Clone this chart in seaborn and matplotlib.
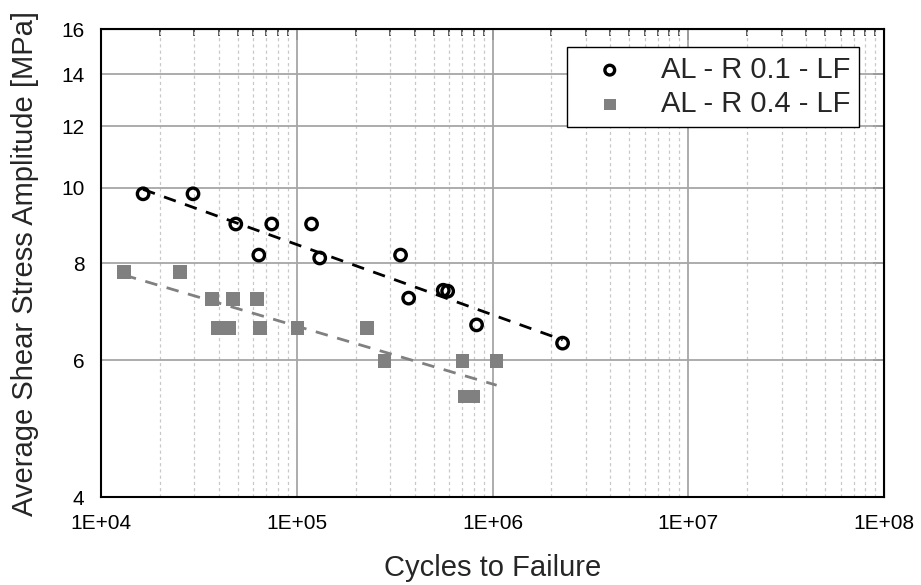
import matplotlib
matplotlib.use("Agg")
import matplotlib.pyplot as plt
import matplotlib.ticker as mticker
import seaborn as sns
import numpy as np
import pandas as pd

# ---- data ----
r01_cycles = [1.64e4, 2.95e4, 4.88e4, 7.45e4, 6.4e4, 1.19e5, 1.31e5, 3.39e5, 3.73e5, 5.6e5, 5.9e5, 8.29e5, 2.28e6]
r01_stress = [9.82, 9.82, 8.98, 8.98, 8.19, 8.98, 8.12, 8.19, 7.21, 7.38, 7.36, 6.66, 6.31]

r04_cycles = [1.31e4, 2.53e4, 3.68e4, 4.71e4, 6.25e4, 3.95e4, 4.5e4, 6.48e4, 1.01e5, 2.28e5, 2.81e5, 7.03e5, 1.05e6, 7.2e5, 8.0e5]
r04_stress = [7.79, 7.79, 7.19, 7.19, 7.19, 6.6, 6.6, 6.6, 6.6, 6.6, 5.98, 5.98, 5.98, 5.39, 5.39]

fit01_cycles = [1.64e4, 2.28e6]
fit01_stress = [9.95, 6.37]
fit04_cycles = [1.31e4, 1.05e6]
fit04_stress = [7.72, 5.57]

label01 = "AL - R 0.1 - LF"
label04 = "AL - R 0.4 - LF"
x_ticks = [1e4, 1e5, 1e6, 1e7, 1e8]
x_tick_labels = ["1E+04", "1E+05", "1E+06", "1E+07", "1E+08"]
y_ticks = [4, 6, 8, 10, 12, 14, 16]

sns.set_style("white")
plt.rcParams["font.family"] = ["Liberation Sans", "DejaVu Sans"]

fig = plt.figure(figsize=(9.21, 5.85), dpi=100)
ax = fig.add_axes([0.1097, 0.1504, 0.8501, 0.8000])

df01 = pd.DataFrame({"N": r01_cycles, "S": r01_stress})
df04 = pd.DataFrame({"N": r04_cycles, "S": r04_stress})
f01 = pd.DataFrame({"N": fit01_cycles, "S": fit01_stress})
f04 = pd.DataFrame({"N": fit04_cycles, "S": fit04_stress})

ax.set_xscale("log")
ax.set_yscale("log")

sns.lineplot(data=f01, x="N", y="S", ax=ax, color="black", lw=2.0,
             linestyle=(0, (4.5, 3.5)), legend=False, zorder=3)
sns.lineplot(data=f04, x="N", y="S", ax=ax, color="#808080", lw=2.0,
             linestyle=(0, (4.5, 3.5)), legend=False, zorder=3)

sns.scatterplot(data=df01, x="N", y="S", ax=ax, marker="o", s=68,
                facecolor="none", edgecolor="black", linewidth=2.4,
                label=label01, zorder=4)
sns.scatterplot(data=df04, x="N", y="S", ax=ax, marker="s", s=95,
                color="#808080", edgecolor="none", linewidth=0,
                label=label04, zorder=4)

ax.set_xlim(1e4, 1e8)
ax.set_ylim(4, 16)

ax.xaxis.set_major_locator(mticker.FixedLocator(x_ticks))
ax.xaxis.set_major_formatter(mticker.FixedFormatter(x_tick_labels))
ax.xaxis.set_minor_locator(mticker.LogLocator(base=10, subs=np.arange(2, 10), numticks=20))
ax.xaxis.set_minor_formatter(mticker.NullFormatter())
ax.yaxis.set_major_locator(mticker.FixedLocator(y_ticks))
ax.yaxis.set_major_formatter(mticker.FixedFormatter([str(v) for v in y_ticks]))
ax.yaxis.set_minor_locator(mticker.NullLocator())
ax.yaxis.set_minor_formatter(mticker.NullFormatter())

ax.grid(True, which="major", axis="both", color="#a6a6a6", lw=1.3, ls="-", zorder=0)
ax.grid(True, which="minor", axis="x", color="#c8c8c8", lw=0.9, ls=(0, (2.5, 2.5)), zorder=0)
ax.set_axisbelow(True)

for s in ax.spines.values():
    s.set_color("black")
    s.set_linewidth(1.5)

ax.tick_params(axis="both", which="major", direction="out", length=8, width=1.3,
               labelsize=15, colors="black", pad=4)
ax.tick_params(axis="x", which="minor", direction="out", length=5, width=1.1)
# top/right ticks inward (secondary axes for ticks only)
axt = ax.secondary_xaxis("top")
axt.set_xticks(x_ticks)
axt.xaxis.set_minor_locator(mticker.LogLocator(base=10, subs=np.arange(2, 10), numticks=20))
axt.tick_params(which="major", direction="in", length=8, width=1.3, labeltop=False)
axt.tick_params(which="minor", direction="in", length=5, width=1.1, labeltop=False)
axt.xaxis.set_major_formatter(mticker.NullFormatter())
axt.xaxis.set_minor_formatter(mticker.NullFormatter())
axr = ax.secondary_yaxis("right")
axr.set_yticks(y_ticks)
axr.yaxis.set_minor_locator(mticker.NullLocator())
axr.tick_params(which="major", direction="in", length=8, width=1.3, labelright=False)
axr.yaxis.set_major_formatter(mticker.NullFormatter())
ax.tick_params(top=False, right=False, which="both")

ax.set_xlabel("Cycles to Failure", fontsize=21, labelpad=15)
ax.set_ylabel("Average Shear Stress Amplitude [MPa]", fontsize=21, labelpad=16)

leg = ax.legend(loc="upper right", bbox_to_anchor=(0.968, 0.9615), borderaxespad=0,
                fontsize=21, frameon=True, fancybox=False, edgecolor="black",
                framealpha=1, handletextpad=0.6, borderpad=0.3,
                labelspacing=0.22, handlelength=2.3, markerscale=0.85)
leg.get_frame().set_linewidth(1.0)

fig.savefig("out.png", dpi=100)
